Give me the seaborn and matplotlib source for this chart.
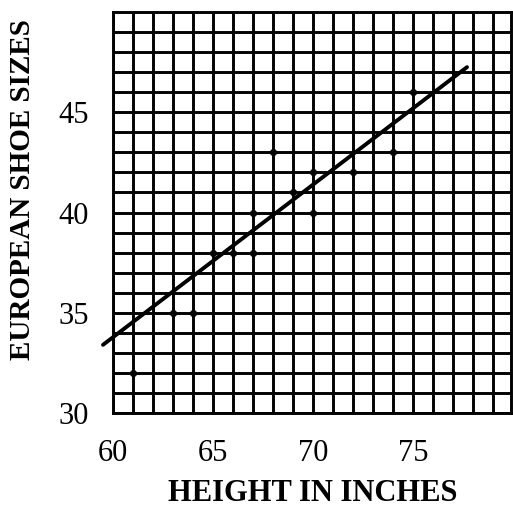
import matplotlib
matplotlib.use("Agg")
import matplotlib.pyplot as plt
import seaborn as sns
import pandas as pd
import numpy as np

# Data
heights = [61, 63, 64, 65, 66, 67, 67, 68, 69, 70, 70, 72, 74, 75]
shoe_sizes = [32, 35, 35, 38, 38, 38, 40, 43, 41, 40, 42, 42, 43, 46]
line_x = [59.5, 77.7]
line_y = [33.4, 47.25]
x_ticks = [60, 65, 70, 75]
y_ticks = [30, 35, 40, 45]

sns.set_style("white")
plt.rcParams['font.family'] = ['Liberation Serif', 'DejaVu Serif']
plt.rcParams['text.color'] = 'black'
plt.rcParams['axes.labelcolor'] = 'black'
plt.rcParams['xtick.color'] = 'black'
plt.rcParams['ytick.color'] = 'black'

fig = plt.figure(figsize=(5.13, 5.08), dpi=100)
ax = fig.add_axes([113/513, 95/508, 398/513, 401/508])

ax.set_xlim(60, 79.9)
ax.set_ylim(30, 50)

ax.set_xticks(np.arange(60, 80, 1), minor=True)
ax.set_yticks(np.arange(30, 50, 1), minor=True)
ax.set_xticks(x_ticks)
ax.set_yticks(y_ticks)
ax.grid(True, which='both', color='black', linewidth=2.1)
ax.set_axisbelow(True)

df = pd.DataFrame({"h": heights, "s": shoe_sizes})
sns.scatterplot(data=df, x="h", y="s", ax=ax, color='black', s=22,
                edgecolor='black', zorder=3)
ldf = pd.DataFrame({"x": line_x, "y": line_y})
sns.lineplot(data=ldf, x="x", y="y", ax=ax, color='black', linewidth=2.8,
             zorder=4, clip_on=False)

for sp in ax.spines.values():
    sp.set_color('black')
    sp.set_linewidth(2.1)

ax.tick_params(axis='both', which='major', direction='out', length=6.5,
               width=1.6, color='black', labelsize=22, labelcolor='black')
ax.tick_params(axis='x', which='major', pad=12)
ax.tick_params(axis='y', which='major', pad=11)
ax.tick_params(axis='both', which='minor', length=0)

ax.set_xlabel("HEIGHT IN INCHES", fontsize=22, fontweight='bold',
              color='black', va='center')
ax.set_ylabel("EUROPEAN SHOE SIZES", fontsize=21, fontweight='bold',
              color='black', va='center')
ax.xaxis.set_label_coords(0.501, -0.2)
ax.yaxis.set_label_coords(-0.227, 0.556)

fig.savefig("out.png", dpi=100)
